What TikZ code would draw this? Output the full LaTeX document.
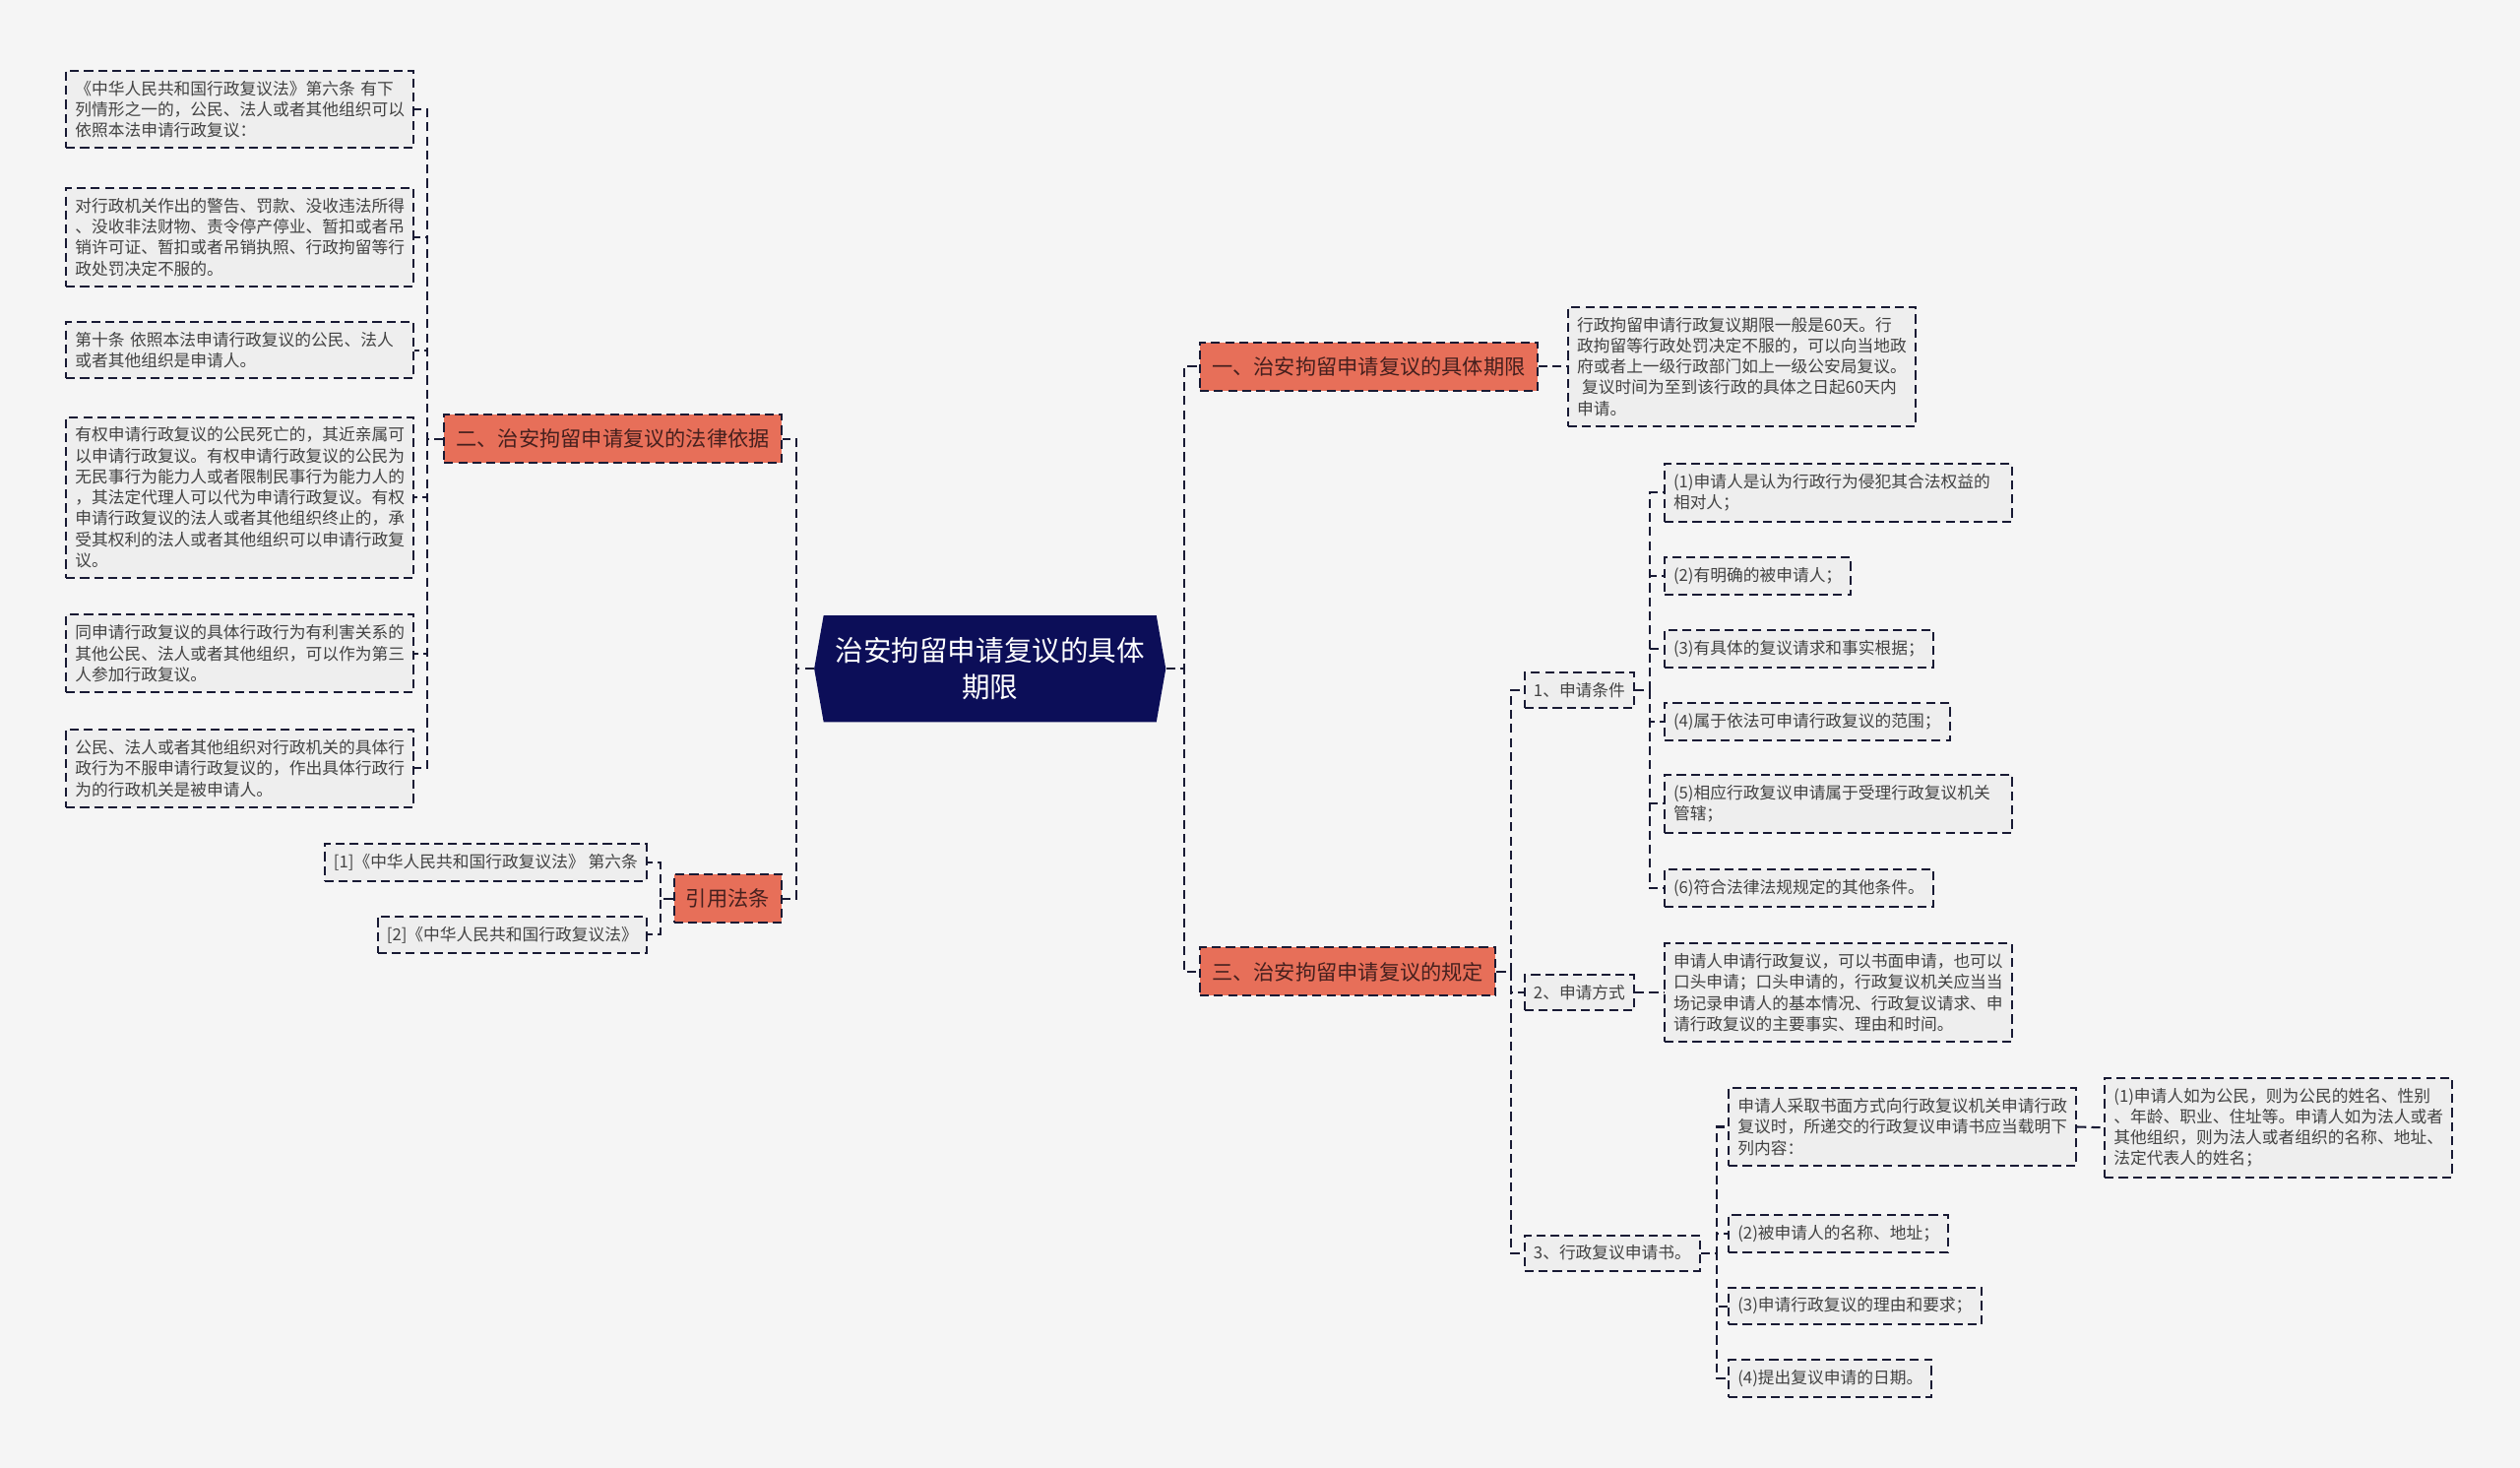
\documentclass[tikz,border=0pt]{standalone}
\usepackage{fontspec}
\setmainfont{Noto Sans CJK SC}
\usepackage{tikz}
\definecolor{paper}{RGB}{245,245,245}
\definecolor{leafgray}{RGB}{238,238,238}
\definecolor{edge}{RGB}{24,26,52}
\definecolor{ink}{RGB}{66,66,66}
\definecolor{coral}{RGB}{231,111,89}
\definecolor{coralink}{RGB}{70,32,30}
\definecolor{rootblue}{RGB}{12,14,88}
\usetikzlibrary{shapes.symbols}

\begin{document}
\begin{tikzpicture}[x=0.8pt,y=-0.8pt,
    every node/.style={font=\fontsize{8.2}{10.4}\selectfont, text=ink, align=left},
    leaf/.style={draw=edge, dash pattern=on 4.5pt off 2.5pt, line width=1pt, fill=leafgray,
        inner xsep=4.5pt, inner ysep=5pt},
    wide/.style={text width=164pt},
    branch/.style={draw=edge, dash pattern=on 4.5pt off 2.5pt, line width=1pt, fill=coral,
        text=coralink, font=\fontsize{10.4}{12}\selectfont, inner xsep=6pt, minimum height=24pt},
    rootnode/.style={signal, signal to=west and east, signal pointer angle=160, fill=rootblue,
        text=white, align=center, font=\fontsize{14}{18.4}\selectfont, minimum width=175pt,
        minimum height=53pt, inner xsep=4pt},
    link/.style={draw=edge, dash pattern=on 4.5pt off 2.5pt, line width=1pt}]

    \fill[paper] (0,0) rectangle (1568,913);
    \useasboundingbox (0,0) rectangle (1568,913);

    \node[rootnode] (root) at (616,416) {治安拘留申请复议的具体\\期限};

    % main branches
    \node[branch, anchor=west] (b1) at (746,228) {一、治安拘留申请复议的具体期限};
    \node[branch, anchor=east] (b2) at (487,273) {二、治安拘留申请复议的法律依据};
    \node[branch, anchor=west] (b3) at (746,604.5) {三、治安拘留申请复议的规定};
    \node[branch, anchor=east] (b4) at (487,559) {引用法条};

    \foreach \k in {1,3} {
        \draw[link] (root.east) -- ++(11,0) |- (b\k.west);
    }
    \foreach \k in {2,4} {
        \draw[link] (root.west) -- ++(-11,0) |- (b\k.east);
    }

    % left: legal basis
    \node[leaf, wide, anchor=east] (l1) at (258,68) {《中华人民共和国行政复议法》第六条 有下\\列情形之一的，公民、法人或者其他组织可以\\依照本法申请行政复议：};
    \node[leaf, wide, anchor=east] (l2) at (258,147.5) {对行政机关作出的警告、罚款、没收违法所得\\、没收非法财物、责令停产停业、暂扣或者吊\\销许可证、暂扣或者吊销执照、行政拘留等行\\政处罚决定不服的。};
    \node[leaf, wide, anchor=east] (l3) at (258,218) {第十条 依照本法申请行政复议的公民、法人\\或者其他组织是申请人。};
    \node[leaf, wide, anchor=east] (l4) at (258,309.5) {有权申请行政复议的公民死亡的，其近亲属可\\以申请行政复议。有权申请行政复议的公民为\\无民事行为能力人或者限制民事行为能力人的\\，其法定代理人可以代为申请行政复议。有权\\申请行政复议的法人或者其他组织终止的，承\\受其权利的法人或者其他组织可以申请行政复\\议。};
    \node[leaf, wide, anchor=east] (l5) at (258,406.5) {同申请行政复议的具体行政行为有利害关系的\\其他公民、法人或者其他组织，可以作为第三\\人参加行政复议。};
    \node[leaf, wide, anchor=east] (l6) at (258,478) {公民、法人或者其他组织对行政机关的具体行\\政行为不服申请行政复议的，作出具体行政行\\为的行政机关是被申请人。};
    \foreach \k in {1,...,6} {
        \draw[link] (b2.west) -- ++(-10,0) |- (l\k.east);
    }

    % left: cited articles
    \node[leaf, anchor=east] (r1) at (403,536.5) {[1]《中华人民共和国行政复议法》 第六条};
    \node[leaf, anchor=east] (r2) at (403,581.5) {[2]《中华人民共和国行政复议法》};
    \foreach \k in {1,2} {
        \draw[link] (b4.west) -- ++(-8,0) |- (r\k.east);
    }

    % right: time limit
    \node[leaf, wide, anchor=west] (t1) at (975,228) {行政拘留申请行政复议期限一般是60天。行\\政拘留等行政处罚决定不服的，可以向当地政\\府或者上一级行政部门如上一级公安局复议。\\\hspace{2.5pt}复议时间为至到该行政的具体之日起60天内\\申请。};
    \draw[link] (b1.east) -- (t1.west);

    % right: rules
    \node[leaf, anchor=west] (s1) at (948,429.5) {1、申请条件};
    \node[leaf, anchor=west] (s2) at (948,617.5) {2、申请方式};
    \node[leaf, anchor=west] (s3) at (948,779.5) {3、行政复议申请书。};
    \foreach \k in {1,2,3} {
        \draw[link] (b3.east) -- ++(9,0) |- (s\k.west);
    }

    \node[leaf, wide, anchor=west] (c1) at (1035,306.5) {(1)申请人是认为行政行为侵犯其合法权益的\\相对人；};
    \node[leaf, anchor=west] (c2) at (1035,358.5) {(2)有明确的被申请人；};
    \node[leaf, anchor=west] (c3) at (1035,403.5) {(3)有具体的复议请求和事实根据；};
    \node[leaf, anchor=west] (c4) at (1035,449) {(4)属于依法可申请行政复议的范围；};
    \node[leaf, wide, anchor=west] (c5) at (1035,500) {(5)相应行政复议申请属于受理行政复议机关\\管辖；};
    \node[leaf, anchor=west] (c6) at (1035,552.5) {(6)符合法律法规规定的其他条件。};
    \foreach \k in {1,...,6} {
        \draw[link] (s1.east) -- ++(9,0) |- (c\k.west);
    }

    \node[leaf, wide, anchor=west] (m1) at (1035,617.5) {申请人申请行政复议，可以书面申请，也可以\\口头申请；口头申请的，行政复议机关应当当\\场记录申请人的基本情况、行政复议请求、申\\请行政复议的主要事实、理由和时间。};
    \draw[link] (s2.east) -- (m1.west);

    \node[leaf, wide, anchor=west] (a1) at (1075,701) {申请人采取书面方式向行政复议机关申请行政\\复议时，所递交的行政复议申请书应当载明下\\列内容：};
    \node[leaf, anchor=west] (a2) at (1075,767.5) {(2)被申请人的名称、地址；};
    \node[leaf, anchor=west] (a3) at (1075,812.5) {(3)申请行政复议的理由和要求；};
    \node[leaf, anchor=west] (a4) at (1075,857.5) {(4)提出复议申请的日期。};
    \foreach \k in {1,...,4} {
        \draw[link] (s3.east) -- ++(10,0) |- (a\k.west);
    }

    \node[leaf, wide, anchor=west] (e1) at (1309,701.5) {(1)申请人如为公民，则为公民的姓名、性别\\、年龄、职业、住址等。申请人如为法人或者\\其他组织，则为法人或者组织的名称、地址、\\法定代表人的姓名；};
    \draw[link] (a1.east) -- (e1.west);

\end{tikzpicture}
\end{document}
